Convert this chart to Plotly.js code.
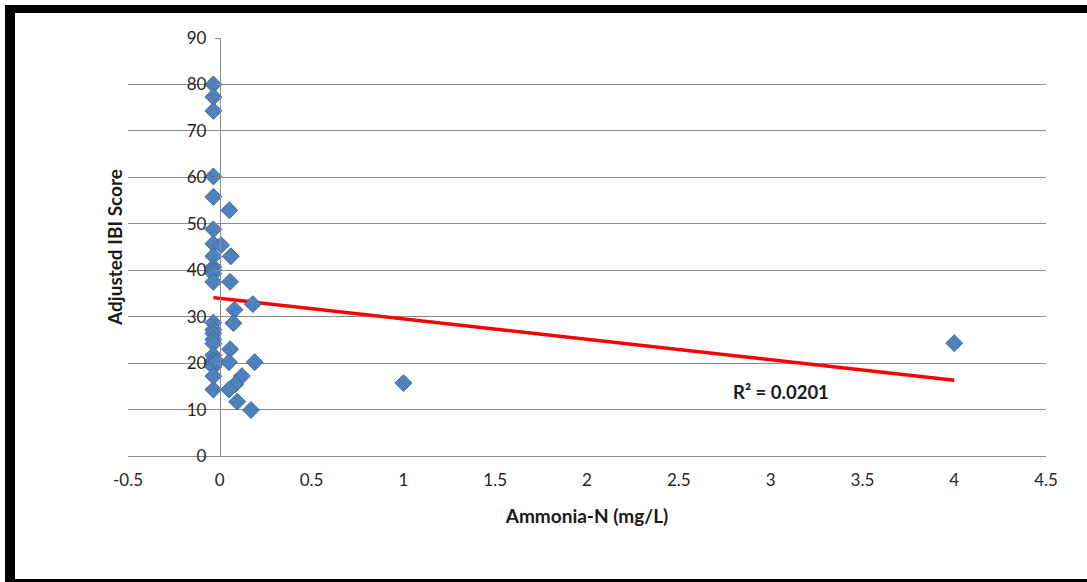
<!DOCTYPE html>
<html>
<head>
<meta charset="utf-8">
<script src="https://cdn.plot.ly/plotly-3.0.1.min.js"></script>
<style>
  html, body { margin: 0; padding: 0; background: #fff; }
  #wrap { position: relative; width: 1087px; height: 582px; overflow: hidden; }
  #chart { position: absolute; left: 0; top: 0; width: 1087px; height: 582px; }
  #frame { position: absolute; left: 5px; top: 5px; width: 1200px; height: 566px;
           border-left: 10px solid #000; border-top: 8px solid #000; border-bottom: 6px solid #000;
           pointer-events: none; }
</style>
</head>
<body>
<div id="wrap">
  <div id="chart"></div>
  <div id="frame"></div>
</div>
<script>
// Ammonia-N (mg/L) values
var ammoniaN = [
  -0.035, -0.035, -0.035, -0.035, -0.035, -0.035, -0.035, -0.035, -0.035, -0.035,
  -0.035, -0.035, -0.035, -0.035, -0.035, -0.035, -0.035, -0.035, -0.035, -0.035,
  -0.035, -0.035, -0.035,
  0.052, 0.007, 0.06, 0.056, 0.08, 0.18, 0.074, 0.056, -0.016, 0.05,
  0.19, 0.12, 0.085, 0.05, 0.095, 0.17, 1.0, 4.0
];
// Adjusted IBI Score values
var ibiScore = [
  80.0, 77.3, 74.3, 60.2, 55.8, 48.8, 45.7, 43.0, 40.7, 40.0,
  39.3, 37.5, 28.7, 27.2, 26.4, 25.1, 24.2, 21.7, 20.6, 19.9,
  19.2, 17.2, 14.3,
  52.9, 45.4, 43.0, 37.5, 31.5, 32.7, 28.6, 23.0, 20.3, 20.2,
  20.2, 17.2, 15.5, 14.3, 11.7, 9.9, 15.7, 24.3
];
// Linear trendline endpoints
var trendX = [-0.035, 4.0];
var trendY = [34.1, 16.3];
var rSquaredLabel = "R\u00b2 = 0.0201";

var xTickVals = [-0.5, 0, 0.5, 1, 1.5, 2, 2.5, 3, 3.5, 4, 4.5];
var xTickText = ["-0.5", "0", "0.5", "1", "1.5", "2", "2.5", "3", "3.5", "4", "4.5"];
var yTickVals = [0, 10, 20, 30, 40, 50, 60, 70, 80, 90];

var font = "Lato, 'Open Sans', 'DejaVu Sans', sans-serif";

var traces = [
  {
    x: trendX, y: trendY, type: "scatter", mode: "lines",
    line: { color: "#FF0000", width: 3.5 },
    hoverinfo: "skip", showlegend: false
  },
  {
    x: ammoniaN, y: ibiScore, type: "scatter", mode: "markers",
    marker: { symbol: "diamond", size: 13, color: "#4F81BD",
              line: { color: "#41699A", width: 1 } },
    showlegend: false
  }
];

var layout = {
  width: 1087, height: 582,
  margin: { l: 128, r: 41, t: 37.5, b: 126, pad: 0 },
  paper_bgcolor: "#ffffff", plot_bgcolor: "#ffffff",
  font: { family: font, size: 17, color: "#262626" },
  showlegend: false,
  xaxis: {
    range: [-0.5, 4.5],
    tickmode: "array", tickvals: xTickVals, ticktext: xTickText,
    showgrid: false, zeroline: false,
    showline: true, linecolor: "#8c8c8c", linewidth: 1, ticks: "",
    tickfont: { family: font, size: 17, color: "#262626" },
    ticklabelstandoff: 9,
    title: { text: "<b>Ammonia-N (mg/L)</b>", font: { family: font, size: 19, color: "#1a1a1a" }, standoff: 20 }
  },
  yaxis: {
    range: [0, 90],
    tickmode: "array", tickvals: yTickVals,
    anchor: "free", position: 0.1,
    showgrid: true, gridcolor: "#8c8c8c", gridwidth: 1,
    zeroline: false,
    showline: true, linecolor: "#8c8c8c", linewidth: 1,
    ticks: "outside", ticklen: 5, tickcolor: "#8c8c8c",
    tickfont: { family: font, size: 17, color: "#262626" },
    ticklabelstandoff: 5,
    title: { text: "<b>Adjusted IBI Score</b>", font: { family: font, size: 19, color: "#1a1a1a" }, standoff: 58 }
  },
  annotations: [
    {
      x: 2.785, y: 13.8, xref: "x", yref: "y",
      text: "<b>" + rSquaredLabel + "</b>",
      showarrow: false, xanchor: "left", yanchor: "middle",
      font: { family: font, size: 18.5, color: "#1a1a1a" }
    }
  ]
};

Plotly.newPlot("chart", traces, layout, { displayModeBar: false, staticPlot: true });
</script>
</body>
</html>
